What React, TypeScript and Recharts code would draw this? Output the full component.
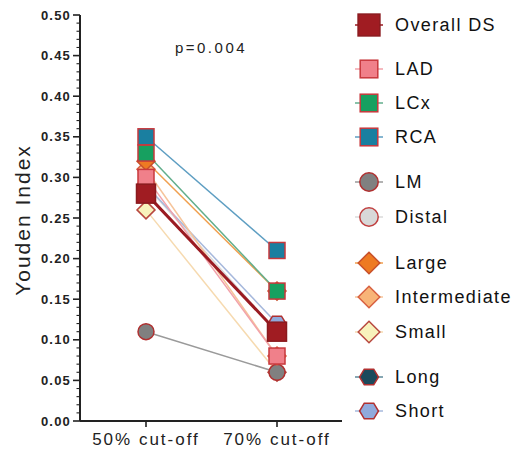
import React from 'react';
import { LineChart, Line, XAxis, YAxis } from 'recharts';

const categories = ['50% cut-off', '70% cut-off'];
const overallDS = [0.28, 0.11];
const lad = [0.30, 0.08];
const lcx = [0.33, 0.16];
const rca = [0.35, 0.21];
const lm = [0.11, 0.06];
const distal = [0.29, 0.11];
const large = [0.32, 0.16];
const intermediate = [0.31, 0.08];
const small = [0.26, 0.06];
const long = [0.28, 0.11];
const short = [0.29, 0.12];

const yMajorTicks = [0, 0.05, 0.1, 0.15, 0.2, 0.25, 0.3, 0.35, 0.4, 0.45, 0.5];
const yAllTicks = Array.from({ length: 51 }, (_, i) => i / 100);

const seriesValues: Record<string, number[]> = {
  overallDS, lad, lcx, rca, lm, distal, large, intermediate, small, long, short,
};

const data = categories.map((cat, i) => {
  const row: Record<string, string | number> = { cat };
  Object.keys(seriesValues).forEach((k) => { row[k] = seriesValues[k][i]; });
  return row;
});

type Shape = 'square' | 'circle' | 'diamond' | 'hexagon';
interface SeriesCfg {
  key: string; name: string; line: string; lw: number; fill: string; stroke: string; shape: Shape; size: number;
}

const cfg: Record<string, SeriesCfg> = {
  overallDS: { key: 'overallDS', name: 'Overall DS', line: '#9A1B22', lw: 3, fill: '#A01C22', stroke: '#8A1A1E', shape: 'square', size: 19 },
  lad: { key: 'lad', name: 'LAD', line: '#F2A2AA', lw: 1.5, fill: '#F0808A', stroke: '#C8383C', shape: 'square', size: 16 },
  lcx: { key: 'lcx', name: 'LCx', line: '#62AE8C', lw: 1.5, fill: '#17A060', stroke: '#C8383C', shape: 'square', size: 16 },
  rca: { key: 'rca', name: 'RCA', line: '#5E9EC2', lw: 1.5, fill: '#1A7FA0', stroke: '#C8383C', shape: 'square', size: 16 },
  lm: { key: 'lm', name: 'LM', line: '#9A9A9A', lw: 1.5, fill: '#808080', stroke: '#B03030', shape: 'circle', size: 16 },
  distal: { key: 'distal', name: 'Distal', line: '#DADADA', lw: 1.5, fill: '#D8D8D8', stroke: '#C04040', shape: 'circle', size: 16 },
  large: { key: 'large', name: 'Large', line: '#F0A050', lw: 1.5, fill: '#EE7A22', stroke: '#C8502A', shape: 'diamond', size: 18 },
  intermediate: { key: 'intermediate', name: 'Intermediate', line: '#F6C49A', lw: 1.5, fill: '#F8B478', stroke: '#D86040', shape: 'diamond', size: 18 },
  small: { key: 'small', name: 'Small', line: '#F6DAB0', lw: 1.5, fill: '#F8F2BC', stroke: '#B84840', shape: 'diamond', size: 18 },
  long: { key: 'long', name: 'Long', line: '#5E8A9A', lw: 1.5, fill: '#1C4A5C', stroke: '#B03030', shape: 'hexagon', size: 18 },
  short: { key: 'short', name: 'Short', line: '#A6B8DC', lw: 1.5, fill: '#90AADC', stroke: '#B03030', shape: 'hexagon', size: 18 },
};

const drawOrder = ['distal', 'long', 'short', 'small', 'lm', 'intermediate', 'large', 'lad', 'overallDS', 'lcx', 'rca'];

const legendGroups = [
  { key: 'overallDS', y: 17, scale: 1.15 },
  { key: 'lad', y: 61, scale: 1.1 },
  { key: 'lcx', y: 95, scale: 1.1 },
  { key: 'rca', y: 129, scale: 1.1 },
  { key: 'lm', y: 174, scale: 1.15 },
  { key: 'distal', y: 209, scale: 1.15 },
  { key: 'large', y: 255, scale: 1.2 },
  { key: 'intermediate', y: 289, scale: 1.2 },
  { key: 'small', y: 324, scale: 1.2 },
  { key: 'long', y: 369, scale: 1.05 },
  { key: 'short', y: 403, scale: 1.05 },
];

function Marker({ shape, cx, cy, size, fill, stroke }: { shape: Shape; cx: number; cy: number; size: number; fill: string; stroke: string }) {
  const h = size / 2;
  if (shape === 'square') {
    return <rect x={cx - h} y={cy - h} width={size} height={size} fill={fill} stroke={stroke} strokeWidth={1.5} />;
  }
  if (shape === 'circle') {
    return <circle cx={cx} cy={cy} r={h} fill={fill} stroke={stroke} strokeWidth={1.5} />;
  }
  if (shape === 'diamond') {
    const pts = `${cx},${cy - h} ${cx + h},${cy} ${cx},${cy + h} ${cx - h},${cy}`;
    return <polygon points={pts} fill={fill} stroke={stroke} strokeWidth={1.5} />;
  }
  const pts = [0, 60, 120, 180, 240, 300]
    .map((a) => {
      const r = (a * Math.PI) / 180;
      return `${cx + h * Math.cos(r)},${cy + h * 0.95 * Math.sin(r)}`;
    })
    .join(' ');
  return <polygon points={pts} fill={fill} stroke={stroke} strokeWidth={1.5} />;
}

const FONT = '"Liberation Sans", Arial, Helvetica, sans-serif';

function YTick(props: any) {
  const { x, y, payload } = props;
  const v = payload.value as number;
  const major = Math.round(v * 100) % 5 === 0;
  return (
    <g>
      <line x1={x - (major ? 7 : 3.5)} x2={x} y1={y} y2={y} stroke="#222" strokeWidth={major ? 1.6 : 1.1} />
      {major && (
        <text x={x - 9} y={y} dy="0.36em" textAnchor="end" fontFamily={FONT} fontWeight="bold" fontSize={13} letterSpacing={1.2} fill="#222">
          {v.toFixed(2)}
        </text>
      )}
    </g>
  );
}

function XTick(props: any) {
  const { x, y, payload } = props;
  return (
    <text x={x} y={y} dy="0.71em" textAnchor="middle" fontFamily={FONT} fontSize={17} letterSpacing={2} fill="#222">
      {payload.value}
    </text>
  );
}

export default function App() {
  return (
    <div style={{ position: 'relative', width: 520, height: 445 }}>
      <LineChart width={520} height={445} data={data} margin={{ top: 7, right: 186, bottom: 0, left: 0 }}>
        <XAxis
          dataKey="cat"
          padding={{ left: 66, right: 65 }}
          height={32}
          tickSize={6}
          tickMargin={6}
          axisLine={{ stroke: '#222', strokeWidth: 2 }}
          tickLine={{ stroke: '#222', strokeWidth: 1.6 }}
          tick={<XTick />}
          interval={0}
        />
        <XAxis xAxisId="top" dataKey="cat" orientation="top" height={0} tick={false} tickLine={false} axisLine={{ stroke: '#333', strokeWidth: 1.5 }} />
        <YAxis
          type="number"
          domain={[0, 0.5]}
          ticks={yAllTicks}
          interval={0}
          width={72}
          tickSize={0}
          tickMargin={0}
          tickLine={false}
          axisLine={{ stroke: '#222', strokeWidth: 2 }}
          tick={<YTick />}
          allowDataOverflow
        />
        <YAxis yAxisId="right" orientation="right" type="number" domain={[0, 0.5]} width={0} tick={false} tickLine={false} axisLine={{ stroke: '#333', strokeWidth: 1.5 }} />
        {drawOrder.map((k) => {
          const c = cfg[k];
          return (
            <Line
              key={k}
              dataKey={k}
              name={c.name}
              type="linear"
              stroke={c.line}
              strokeWidth={c.lw}
              isAnimationActive={false}
              activeDot={false}
              dot={(p: any) => (
                <Marker key={`${k}-${p.index}`} shape={c.shape} cx={p.cx} cy={p.cy} size={c.size} fill={c.fill} stroke={c.stroke} />
              )}
            />
          );
        })}
      </LineChart>
      <svg width={520} height={445} style={{ position: 'absolute', left: 0, top: 0, pointerEvents: 'none' }}>
        <text x={203} y={40} dy="0.36em" textAnchor="middle" fontFamily={FONT} fontSize={15} letterSpacing={2.5} fill="#222">
          p=0.004
        </text>
        <text
          transform="translate(14,212) rotate(-90)"
          textAnchor="middle"
          dy="0.36em"
          fontFamily={FONT}
          fontSize={21}
          letterSpacing={2}
          fill="#222"
        >
          Youden Index
        </text>
        {legendGroups.map((g) => {
          const c = cfg[g.key];
          return (
            <g key={g.key}>
              <line x1={347} x2={375} y1={g.y} y2={g.y} stroke={c.line} strokeWidth={1.5} />
              <Marker shape={c.shape} cx={361} cy={g.y} size={c.size * g.scale} fill={c.fill} stroke={c.stroke} />
              <text x={387} y={g.y} dy="0.36em" fontFamily={FONT} fontSize={18} letterSpacing={1.4} fill="#111">
                {c.name}
              </text>
            </g>
          );
        })}
      </svg>
    </div>
  );
}
